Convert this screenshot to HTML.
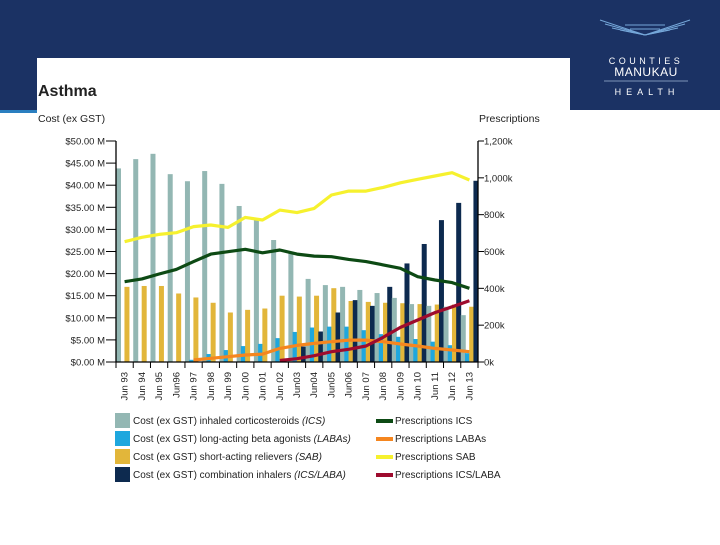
<!DOCTYPE html>
<html><head><meta charset="utf-8"><style>
body{margin:0;width:720px;height:540px;overflow:hidden;background:#fff;font-family:"Liberation Sans",sans-serif}
</style></head><body>
<svg width="720" height="540" xmlns="http://www.w3.org/2000/svg">
<rect x="0" y="0" width="720" height="110" fill="#1b3264"/>
<rect x="0" y="110" width="37" height="3" fill="#2a7fc0"/>
<rect x="37" y="58" width="533" height="482" fill="#fff"/>
<g>
<g stroke="#7fb4e6" stroke-width="1" opacity="0.9">
<line x1="600" y1="20" x2="645" y2="35"/><line x1="605" y1="24" x2="645" y2="35"/><line x1="612" y1="28" x2="645" y2="35"/><line x1="620" y1="30" x2="645" y2="35"/>
<line x1="690" y1="20" x2="645" y2="35"/><line x1="685" y1="24" x2="645" y2="35"/><line x1="678" y1="28" x2="645" y2="35"/><line x1="670" y1="30" x2="645" y2="35"/>
<line x1="625" y1="25" x2="665" y2="25"/><line x1="630" y1="29" x2="660" y2="29"/>
</g>
<text x="646" y="64" fill="#fff" font-size="9" text-anchor="middle" letter-spacing="3.5">COUNTIES</text>
<text x="646" y="76" fill="#fff" font-size="12" text-anchor="middle" letter-spacing="0.5">MANUKAU</text>
<line x1="604" y1="81" x2="688" y2="81" stroke="#9fb6d6" stroke-width="0.7"/>
<text x="647" y="95" fill="#fff" font-size="9" text-anchor="middle" letter-spacing="5">HEALTH</text>
</g>
<text x="38" y="96" font-size="16" font-weight="bold" fill="#222">Asthma</text>
<text x="38" y="122" font-size="10.5" fill="#222">Cost (ex GST)</text>
<text x="479" y="122" font-size="10.5" fill="#222">Prescriptions</text>
<g id="plot"></g>
<g id="legend" font-size="10" fill="#222"></g>
</svg>
<script>
const years=["Jun 93","Jun 94","Jun 95","Jun96","Jun 97","Jun 98","Jun 99","Jun 00","Jun 01","Jun 02","Jun03","Jun04","Jun05","Jun06","Jun 07","Jun 08","Jun 09","Jun 10","Jun 11","Jun 12","Jun 13"];
const costICS=[43.8,45.9,47.1,42.5,40.9,43.2,40.3,35.3,32.3,27.6,25.0,18.8,17.4,17.0,16.3,15.6,14.5,13.1,12.7,12.5,10.6];
const costLABA=[0,0,0,0,0.5,1.8,2.7,3.6,4.1,5.4,6.8,7.8,8.0,8.0,7.2,6.3,5.7,5.2,4.6,3.8,2.0];
const costSAB=[17.0,17.2,17.2,15.5,14.6,13.4,11.2,11.8,12.1,15.0,14.8,15.0,16.7,13.8,13.6,13.4,13.3,13.1,13.0,13.0,12.5];
const costCombo=[0,0,0,0,0,0,0,0,0,0,3.5,6.9,11.2,14.0,12.7,17.0,22.3,26.7,32.1,36.0,41.0];
const rxICS=[436,451,478,503,545,586,599,612,593,608,586,575,572,557,545,527,509,463,445,431,400];
const rxLABA=[null,null,null,null,11,20,29,38,43,74,90,101,110,119,119,110,98,87,74,65,56];
const rxSAB=[653,677,693,702,735,744,731,785,771,825,811,834,907,928,928,948,973,992,1010,1028,988];
const rxCombo=[null,null,null,null,null,null,null,null,null,8,18,34,56,69,87,134,188,228,268,300,333];
const leftTicks=["$0.00 M","$5.00 M","$10.00 M","$15.00 M","$20.00 M","$25.00 M","$30.00 M","$35.00 M","$40.00 M","$45.00 M","$50.00 M"];
const rightTicks=["0k","200k","400k","600k","800k","1,000k","1,200k"];

const NS="http://www.w3.org/2000/svg";
const X0=116,X1=478,Y0=362,Y1=141;
const gw=(X1-X0)/years.length;
const yL=v=>Y0-v/50*(Y0-Y1);
const yR=v=>Y0-v/1200*(Y0-Y1);
const gx=i=>X0+i*gw;
const plot=document.getElementById('plot');
function mk(tag,attrs,parent){const e=document.createElementNS(NS,tag);for(const k in attrs)e.setAttribute(k,attrs[k]);(parent||plot).appendChild(e);return e;}

const series=[[costICS,"#93b7b3","bar-ics"],[costLABA,"#1ea7de","bar-laba"],[costSAB,"#e2b63a","bar-sab"],[costCombo,"#0d2a4f","bar-combo"]];
const step=gw*0.245, bw=5;
years.forEach((y,i)=>{
  series.forEach((s,k)=>{
    const v=s[0][i];if(!v)return;
    const r=mk('rect',{x:gx(i)+k*step,y:yL(v),width:bw,height:Y0-yL(v),fill:s[1]});
    
    
  });
});
const lines=[[rxICS,"#0d4a14","line-rx-ics"],[rxLABA,"#f5861f","line-rx-labas"],[rxSAB,"#f6f12e","line-rx-sab"],[rxCombo,"#9e0b2e","line-rx-ics-laba"]];
lines.forEach(l=>{
  let d="";l[0].forEach((v,i)=>{if(v==null)return;d+=(d?"L":"M")+(gx(i)+gw/2).toFixed(1)+","+yR(v).toFixed(1);});
  const p=mk('path',{d:d,fill:"none",stroke:l[1],"stroke-width":3.2,"stroke-linejoin":"round"});
  
  
});
const ax=mk('path',{d:`M${X0},${Y1}V${Y0}H${X1}V${Y1}`,fill:"none",stroke:"#000","stroke-width":1.3});


leftTicks.forEach((t,i)=>{
  const y=Y0-i*(Y0-Y1)/(leftTicks.length-1);
  mk('line',{x1:X0-10,x2:X0,y1:y,y2:y,stroke:"#000","stroke-width":1});
  const tx=mk('text',{x:X0-11,y:y+3.5,"font-size":9.5,"text-anchor":"end",fill:"#222"});tx.textContent=t;
  
  
});
rightTicks.forEach((t,i)=>{
  const y=Y0-i*(Y0-Y1)/(rightTicks.length-1);
  mk('line',{x1:X1,x2:X1+6,y1:y,y2:y,stroke:"#000","stroke-width":1});
  const tx=mk('text',{x:X1+6,y:y+3.5,"font-size":9.5,fill:"#222"});tx.textContent=t;
  
  
});
years.forEach((t,i)=>{
  mk('line',{x1:gx(i),x2:gx(i),y1:Y0,y2:Y0+6,stroke:"#000","stroke-width":1});
  const cx=gx(i)+gw/2+3;
  const tx=mk('text',{x:cx,y:Y0+10,"font-size":9.5,"text-anchor":"end",fill:"#222",transform:`rotate(-90 ${cx} ${Y0+10})`});tx.textContent=t;
  
  
});
mk('line',{x1:X1,x2:X1,y1:Y0,y2:Y0+6,stroke:"#000","stroke-width":1});
const lg=document.getElementById('legend');
const legL=[["#93b7b3","Cost (ex GST) inhaled corticosteroids ","(ICS)"],["#1ea7de","Cost (ex GST) long-acting beta agonists ","(LABAs)"],["#e2b63a","Cost (ex GST) short-acting relievers ","(SAB)"],["#0d2a4f","Cost (ex GST) combination inhalers ","(ICS/LABA)"]];
const legR=[["#0d4a14","Prescriptions ICS"],["#f5861f","Prescriptions LABAs"],["#f6f12e","Prescriptions SAB"],["#9e0b2e","Prescriptions ICS/LABA"]];
legL.forEach((e,i)=>{
  const y=413+i*18;
  const r=mk('rect',{x:115,y:y,width:15,height:15,fill:e[0]},lg);
  
  
  const t=mk('text',{x:133,y:y+11},lg);t.textContent=e[1];
  const it=mk('tspan',{"font-style":"italic"},t);it.textContent=e[2];
  
  
});
legR.forEach((e,i)=>{
  const y=413+i*18;
  const r=mk('rect',{x:376,y:y+6,width:17,height:4,fill:e[0]},lg);
  
  
  const t=mk('text',{x:395,y:y+11},lg);t.textContent=e[1];
  
  
});
</script>
</body></html>
